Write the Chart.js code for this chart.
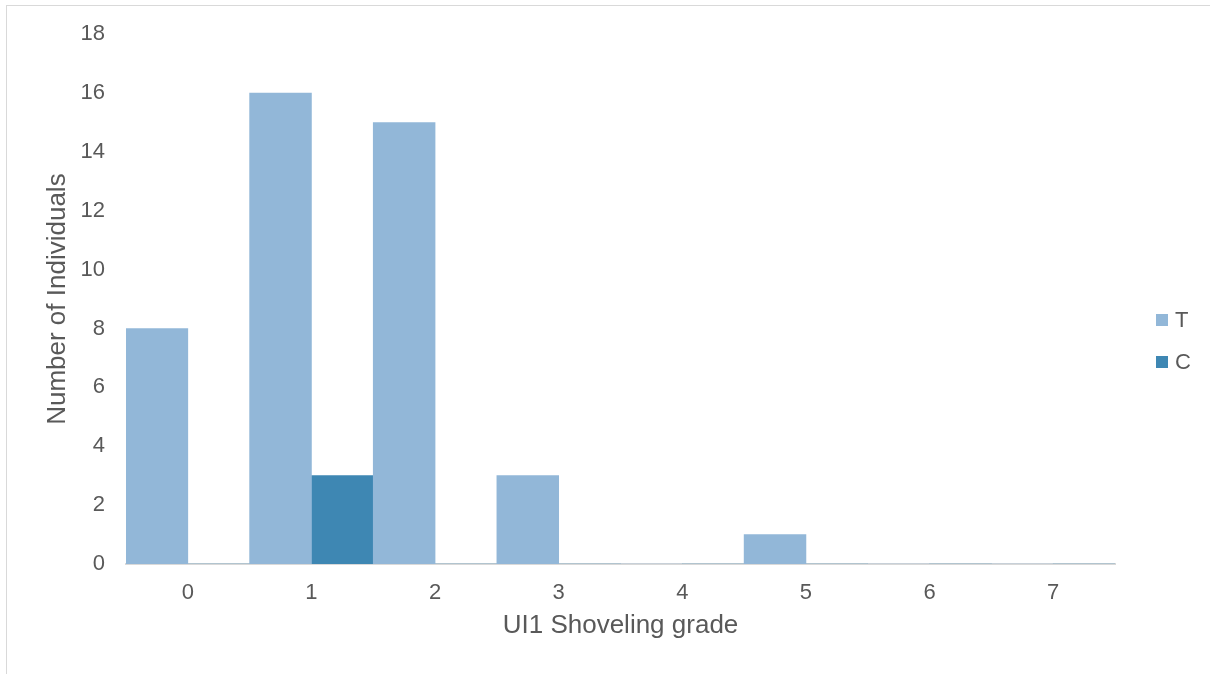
<!DOCTYPE html>
<html>
<head>
<meta charset="utf-8">
<script src="https://cdn.jsdelivr.net/npm/chart.js@4.4.0/dist/chart.umd.min.js"></script>
<style>
  html, body { margin: 0; padding: 0; background: #fff; }
  #wrap { position: relative; width: 1210px; height: 674px; overflow: hidden; }
  #frame { position: absolute; left: 6px; top: 5px; width: 1300px; height: 800px;
           border-left: 1px solid #d9d9d9; border-top: 1px solid #d9d9d9; }
  canvas { position: absolute; left: 0; top: 0; }
  #legend { position: absolute; left: 1156px; top: 309px; font-family: "Liberation Sans", Arial, sans-serif;
            font-size: 22px; color: #595959; }
  #legend div { display: flex; align-items: center; height: 22px; margin-bottom: 20px; }
  #legend span.box { display: inline-block; width: 12px; height: 12px; margin-right: 7px; }
</style>
</head>
<body>
<div id="wrap">
  <div id="frame"></div>
  <canvas id="chart" width="1210" height="674"></canvas>
  <div id="legend"></div>
</div>
<script>
// values
const grades = ['0', '1', '2', '3', '4', '5', '6', '7'];
const tValues = [8, 16, 15, 3, 0, 1, 0, 0];
const cValues = [0, 3, 0, 0, 0, 0, 0, 0];
const yTicks = [0, 2, 4, 6, 8, 10, 12, 14, 16, 18];

const textColor = '#595959';
const fontFamily = '"Liberation Sans", Arial, sans-serif';

const datasets = [
  { label: 'T', data: tValues, backgroundColor: '#92b7d8' },
  { label: 'C', data: cValues, backgroundColor: '#3e87b3' }
];

const ctx = document.getElementById('chart').getContext('2d');
const chart = new Chart(ctx, {
  type: 'bar',
  data: { labels: grades, datasets: datasets },
  options: {
    responsive: false,
    animation: false,
    layout: { padding: { top: 33, right: 95, bottom: 0, left: 0 } },
    datasets: { bar: { barPercentage: 1, categoryPercentage: 1 } },
    plugins: {
      legend: { display: false },
      tooltip: { enabled: false }
    },
    scales: {
      x: {
        grid: { display: false, drawTicks: false },
        border: { display: true, color: '#d9d9d9', width: 2 },
        ticks: { color: textColor, font: { family: fontFamily, size: 22 }, padding: 16 },
        title: {
          display: true, text: 'UI1 Shoveling grade', color: textColor,
          font: { family: fontFamily, size: 26 }, padding: { top: 0, bottom: 33 }
        },
        afterFit: scale => { scale.height = 110; }
      },
      y: {
        min: 0, max: 18,
        grid: { display: false, drawTicks: false },
        border: { display: false },
        afterBuildTicks: scale => { scale.ticks = yTicks.map(v => ({ value: v })); },
        ticks: { color: textColor, font: { family: fontFamily, size: 22 }, padding: 21 },
        title: {
          display: true, text: 'Number of Individuals', color: textColor,
          font: { family: fontFamily, size: 26 }, padding: { top: 42, bottom: 0 }
        },
        afterFit: scale => { scale.width = 126; }
      }
    }
  }
});

// legend built from the datasets
const legendEl = document.getElementById('legend');
datasets.forEach(ds => {
  const row = document.createElement('div');
  row.innerHTML = `<span class="box" style="background:${ds.backgroundColor}"></span>${ds.label}`;
  legendEl.appendChild(row);
});
</script>
</body>
</html>
